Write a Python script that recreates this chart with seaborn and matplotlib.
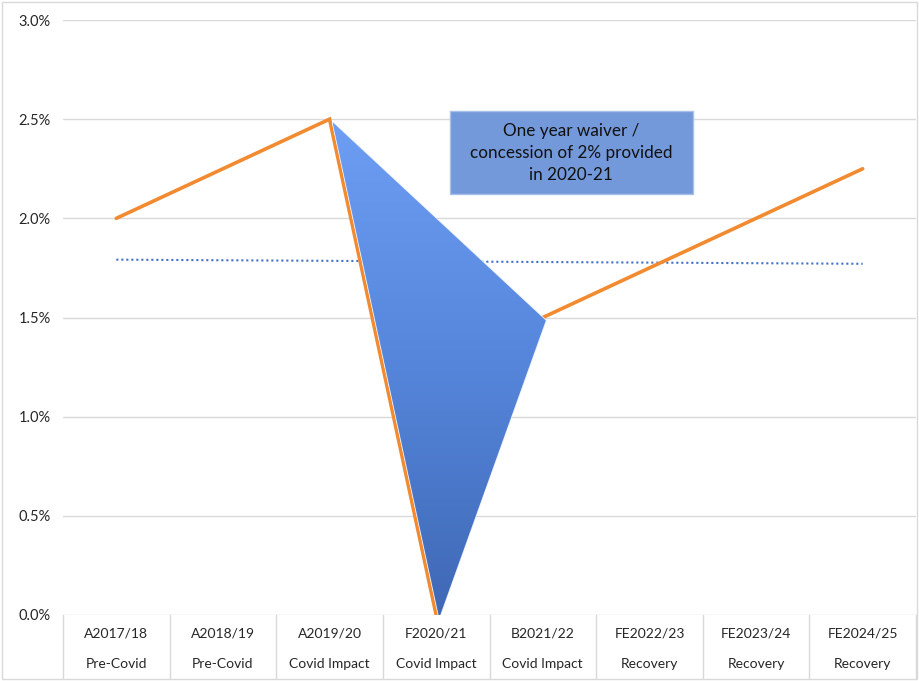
import numpy as np
import pandas as pd
import matplotlib
matplotlib.use("Agg")
import matplotlib.pyplot as plt
import matplotlib.transforms as mtransforms
from matplotlib.patches import Polygon, Rectangle
from matplotlib.colors import LinearSegmentedColormap
import seaborn as sns

# ---- data ----
years = ["A2017/18", "A2018/19", "A2019/20", "F2020/21", "B2021/22",
         "FE2022/23", "FE2023/24", "FE2024/25"]
phases = ["Pre-Covid", "Pre-Covid", "Covid Impact", "Covid Impact", "Covid Impact",
          "Recovery", "Recovery", "Recovery"]
rates = [2.0, 2.25, 2.5, 0.0, 1.5, 1.75, 2.0, 2.25]
waiver_idx = [2, 3, 4]  # categories spanned by the waiver triangle
yticks = [0.0, 0.5, 1.0, 1.5, 2.0, 2.5, 3.0]
annotation = "One year waiver /\nconcession of 2% provided\nin 2020-21"

sns.set_theme(style="white")
plt.rcParams["font.family"] = ["Lato", "DejaVu Sans"]

W, H = 919, 681
fig = plt.figure(figsize=(W / 100, H / 100), dpi=100)
ax = fig.add_axes([63 / W, (H - 615) / H, (916 - 63) / W, (615 - 20) / H])

xpos = np.arange(len(years))
df = pd.DataFrame({"x": xpos, "rate": rates})

# gridlines
for yv in yticks:
    ax.axhline(yv, color="#D9D9D9", lw=1.0, zorder=0)

# trendline (linear fit, dotted)
sns.regplot(data=df, x="x", y="rate", scatter=False, ci=None, ax=ax,
            line_kws=dict(color="#4472C4", lw=1.5, ls=(0, (1, 1.4)), zorder=3))

# main line
sns.lineplot(data=df, x="x", y="rate", ax=ax, color="#F28A30", lw=2.6,
             zorder=4, solid_joinstyle="miter")

# gradient triangle (waiver), drawn over the line
tri_pts = [(xpos[i], rates[i]) for i in waiver_idx]
tri_tr = mtransforms.offset_copy(ax.transData, fig=fig, x=3, y=-3, units="dots")
tri = Polygon(tri_pts, closed=True, transform=tri_tr, facecolor="none",
              edgecolor="#EAF0FA", lw=1.2, zorder=5)
ax.add_patch(tri)
grad = np.linspace(0, 1, 256).reshape(-1, 1)
cmap = LinearSegmentedColormap.from_list("g", ["#3F68B5", "#5585DA", "#6E9EF3"])
im = ax.imshow(grad, cmap=cmap, origin="lower", aspect="auto",
               extent=[xpos[waiver_idx[0]], xpos[waiver_idx[-1]] + 0.1,
                       0, max(rates[i] for i in waiver_idx)],
               zorder=5.5, transform=tri_tr)
tri_clip = Polygon(tri_pts, closed=True, transform=tri_tr, facecolor="none", edgecolor="none")
ax.add_patch(tri_clip)
im.set_clip_path(tri_clip)

ax.set_xlim(-0.5, len(years) - 0.5)
ax.set_ylim(0, 3.0)
ax.set_yticks(yticks)
ax.set_yticklabels([f"{v:.1f}%" for v in yticks], fontsize=10.5, color="#262626")
ax.tick_params(axis="y", length=0, pad=9)
ax.set_xticks([])
ax.set_xlabel("")
ax.set_ylabel("")
for s in ax.spines.values():
    s.set_visible(False)

# two-level category axis
btr = mtransforms.blended_transform_factory(ax.transData, ax.transAxes)
px = 1 / (615 - 20)
for i, (yr, ph) in enumerate(zip(years, phases)):
    ax.text(i, -19 * px, yr, transform=btr, ha="center", va="center",
            fontsize=10, color="#262626")
    ax.text(i, -49 * px, ph, transform=btr, ha="center", va="center",
            fontsize=10, color="#262626")
for b in np.arange(len(years) + 1) - 0.5:
    ax.plot([b, b], [0, -63 * px], transform=btr, color="#D9D9D9", lw=1.0,
            clip_on=False, zorder=1)

# annotation box
fig.patches.append(Rectangle((450 / W, (H - 194) / H), 243 / W, 83 / H,
                             transform=fig.transFigure, facecolor="#7399DA",
                             edgecolor="#A9C0E8", lw=1.0, zorder=5))
fig.text(571 / W, (H - 153) / H, annotation, ha="center", va="center",
         fontsize=12.3, color="#111111", linespacing=1.45, zorder=6)

# figure border
fig.patches.append(Rectangle((2 / W, 2 / H), (W - 4) / W, (H - 4) / H,
                             transform=fig.transFigure, facecolor="none",
                             edgecolor="#D9D9D9", lw=1.0))

fig.savefig("out.png", dpi=100)
